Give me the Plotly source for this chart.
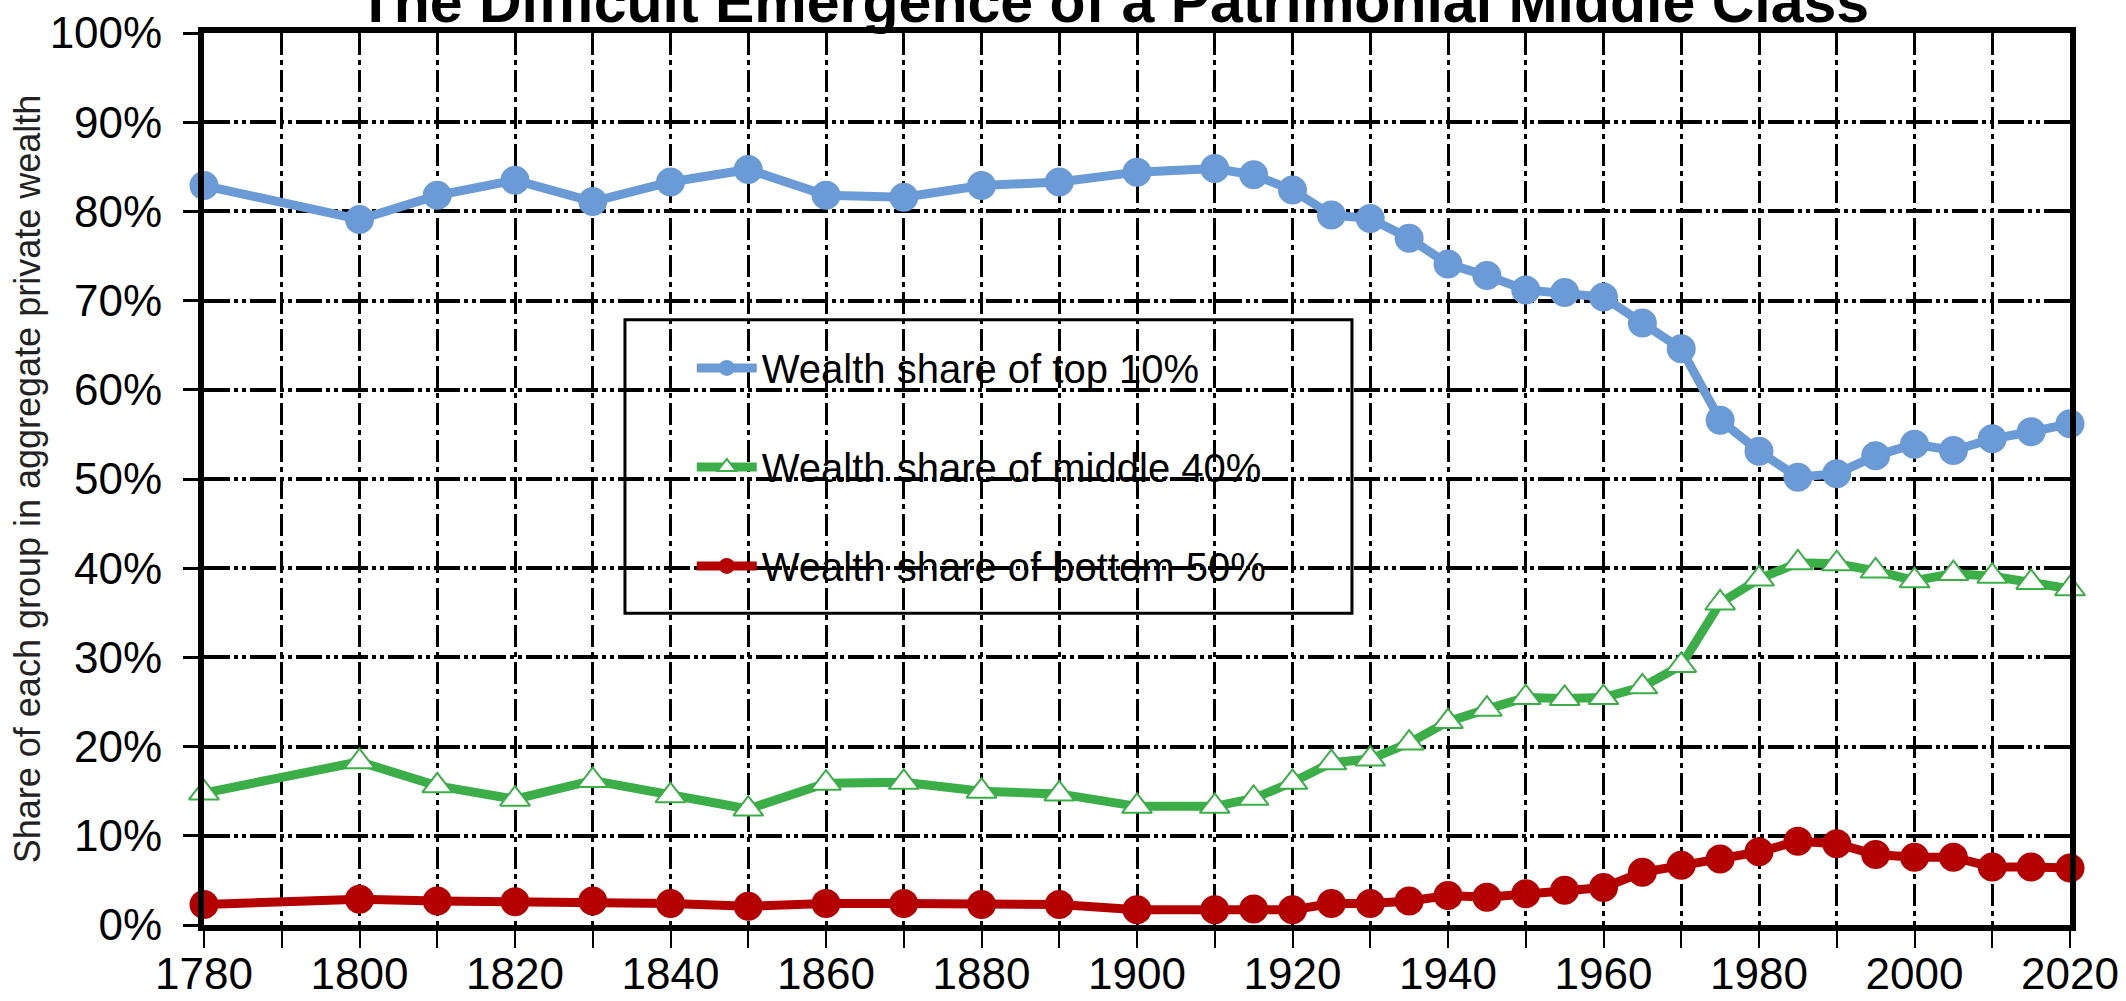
import plotly.graph_objects as go

# ---- data ----
years = [1780, 1800, 1810, 1820, 1830, 1840, 1850, 1860, 1870, 1880, 1890, 1900,
         1910, 1915, 1920, 1925, 1930, 1935, 1940, 1945, 1950, 1955, 1960, 1965,
         1970, 1975, 1980, 1985, 1990, 1995, 2000, 2005, 2010, 2015, 2020]

top10 = [82.9, 79.1, 81.8, 83.5, 81.1, 83.3, 84.7, 81.8, 81.6, 82.9, 83.3, 84.4,
         84.8, 84.1, 82.4, 79.6, 79.2, 77.0, 74.1, 72.8, 71.2, 70.9, 70.4, 67.5,
         64.6, 56.6, 53.1, 50.2, 50.6, 52.6, 53.9, 53.2, 54.5, 55.3, 56.2]

middle40 = [14.8, 18.3, 15.6, 14.1, 16.2, 14.5, 13.0, 15.9, 16.0, 15.0, 14.7, 13.3,
            13.3, 14.2, 16.0, 18.2, 18.6, 20.4, 22.8, 24.2, 25.5, 25.4, 25.5, 26.7,
            29.1, 36.1, 38.8, 40.6, 40.5, 39.7, 38.6, 39.4, 39.1, 38.4, 37.7]

bottom50 = [2.3, 2.9, 2.7, 2.6, 2.7, 2.4, 2.1, 2.4, 2.4, 2.3, 2.3, 1.7,
            1.7, 1.8, 1.7, 2.4, 2.4, 2.7, 3.3, 3.1, 3.5, 3.9, 4.2, 5.9,
            6.7, 7.4, 8.2, 9.4, 9.1, 7.9, 7.6, 7.6, 6.5, 6.5, 6.4]

series_names = ["Wealth share of top 10%", "Wealth share of middle 40%",
                "Wealth share of bottom 50%"]

x_tick_vals = [1780, 1790, 1800, 1810, 1820, 1830, 1840, 1850, 1860, 1870, 1880, 1890,
               1900, 1910, 1920, 1930, 1940, 1950, 1960, 1970, 1980, 1990, 2000, 2010, 2020]
x_tick_text = ["1780", "", "1800", "", "1820", "", "1840", "", "1860", "", "1880", "",
               "1900", "", "1920", "", "1940", "", "1960", "", "1980", "", "2000", "", "2020"]
y_tick_vals = [0, 10, 20, 30, 40, 50, 60, 70, 80, 90, 100]
y_tick_text = ["0%", "10%", "20%", "30%", "40%", "50%", "60%", "70%", "80%", "90%", "100%"]

title_text = "The Difficult Emergence of a Patrimonial Middle Class"
y_title = "Share of each group in aggregate private wealth"

BLUE = "#6A9BD6"
GREEN = "#3BAE48"
RED = "#B50000"
FONT = "Arial, Liberation Sans, sans-serif"

fig = go.Figure()

fig.add_trace(go.Scatter(
    x=years, y=top10, name=series_names[0], mode="lines+markers",
    line=dict(color=BLUE, width=9),
    marker=dict(symbol="circle", size=29, color=BLUE),
    cliponaxis=False, legendgroup="a"))

fig.add_trace(go.Scatter(
    x=years, y=middle40, name=series_names[1], mode="lines+markers",
    line=dict(color=GREEN, width=9),
    marker=dict(symbol="triangle-up", size=26, color="white",
                line=dict(color=GREEN, width=2)),
    cliponaxis=False, legendgroup="b"))

fig.add_trace(go.Scatter(
    x=years, y=bottom50, name=series_names[2], mode="lines+markers",
    line=dict(color=RED, width=9),
    marker=dict(symbol="circle", size=29, color=RED),
    cliponaxis=False, legendgroup="c"))

fig.update_layout(
    template="none",
    width=2126, height=1001,
    margin=dict(l=204, r=56, t=33, b=76, pad=0, autoexpand=False),
    plot_bgcolor="white", paper_bgcolor="white",
    font=dict(family=FONT, color="black"),
    title=dict(text="<b>" + title_text + "</b>", font=dict(size=59, family=FONT, color="black"),
               x=0.5237, xref="container", xanchor="center",
               y=1 - 22 / 1001, yref="container", yanchor="bottom"),
    showlegend=True,
    legend=dict(x=0.2614, xanchor="left", y=0.661, yanchor="top",
                bgcolor="rgba(0,0,0,0)", borderwidth=0,
                font=dict(size=40, family=FONT, color="black"),
                itemwidth=60, tracegroupgap=44, traceorder="grouped"),
    shapes=[dict(type="rect", xref="paper", yref="paper",
                 x0=0.2256, x1=0.6152, y0=0.3494, y1=0.6786,
                 line=dict(color="black", width=3), fillcolor="white", layer="between")],
)

fig.update_xaxes(
    range=[1780, 2020], tickmode="array", tickvals=x_tick_vals, ticktext=x_tick_text,
    showgrid=True, gridcolor="black", gridwidth=2.5, griddash="22px,5px,5px,5px",
    showline=True, linecolor="black", linewidth=6, mirror=True,
    ticks="outside", ticklen=17, tickwidth=2, tickcolor="black",
    tickfont=dict(size=44, family=FONT, color="black"),
    zeroline=False, automargin=False, ticklabelstandoff=-12)

fig.update_yaxes(
    range=[0, 100], tickmode="array", tickvals=y_tick_vals, ticktext=y_tick_text,
    showgrid=True, gridcolor="black", gridwidth=3.5, griddash="26px,4px,4px,4px,4px,4px",
    showline=True, linecolor="black", linewidth=6, mirror=True,
    ticks="outside", ticklen=15, tickwidth=2.5, tickcolor="black",
    tickfont=dict(size=44, family=FONT, color="black"),
    zeroline=False, automargin=False, ticklabelstandoff=12,
    title=dict(text=y_title, font=dict(size=36, family=FONT, color="#222222"), standoff=0))

fig.write_html("out.html", config={"displayModeBar": False},
               post_script="document.body.style.margin='0px';")
